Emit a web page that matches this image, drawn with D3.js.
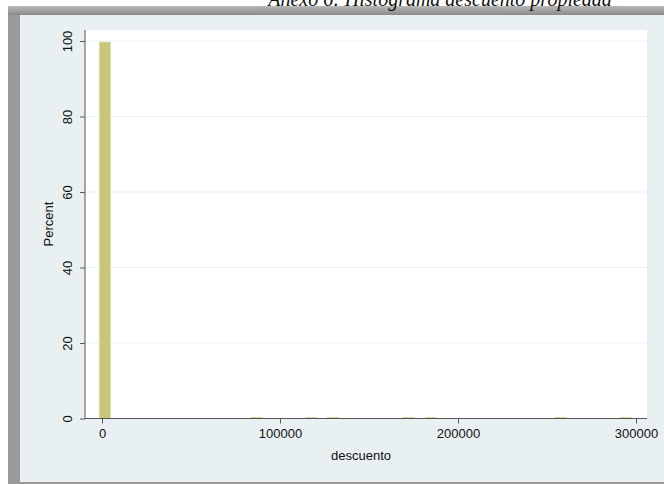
<!DOCTYPE html>
<html>
<head>
<meta charset="utf-8">
<script src="https://cdn.jsdelivr.net/npm/d3@7"></script>
<style>
  html, body { margin: 0; padding: 0; background: #ffffff; }
  svg { display: block; }
</style>
</head>
<body>
<svg id="chart" width="664" height="484"></svg>
<script>
// ---- data ----
const title = "Anexo 6: Histograma descuento propiedad";
const xLabel = "descuento";
const yLabel = "Percent";
const binWidth = 6100;
const binStarts = [-1400, 84000, 114500, 126700, 169400, 181600, 254800, 291400];
const percents  = [99.7, 0.04, 0.04, 0.04, 0.04, 0.04, 0.04, 0.04];
const xTicks = [0, 100000, 200000, 300000];
const yTicks = [0, 20, 40, 60, 80, 100];

const svg = d3.select("#chart");

// frame / backgrounds
const grad = svg.append("defs").append("linearGradient")
  .attr("id", "topShade").attr("x1", 0).attr("y1", 0).attr("x2", 0).attr("y2", 1);
grad.append("stop").attr("offset", "0%").attr("stop-color", "#b8b8b8");
grad.append("stop").attr("offset", "100%").attr("stop-color", "#8a8a8a");

svg.append("rect").attr("x", 8).attr("y", 6).attr("width", 656).attr("height", 478)
  .attr("fill", "#9a9a9a");
svg.append("rect").attr("x", 8).attr("y", 6).attr("width", 656).attr("height", 9)
  .attr("fill", "url(#topShade)");
svg.append("rect").attr("x", 20).attr("y", 15).attr("width", 644).attr("height", 467)
  .attr("fill", "#e8f0f1");

const m = { left: 85, right: 647, top: 30, bottom: 418.5 };
svg.append("rect").attr("x", m.left).attr("y", m.top)
  .attr("width", m.right - m.left).attr("height", m.bottom - m.top)
  .attr("fill", "#ffffff");

const x = d3.scaleLinear().domain([0, 300000]).range([102, 636]);
const y = d3.scaleLinear().domain([0, 100]).range([418.5, 41]);

// gridlines
svg.append("g").selectAll("line").data(yTicks.filter(d => d > 0)).join("line")
  .attr("x1", m.left).attr("x2", m.right)
  .attr("y1", d => y(d)).attr("y2", d => y(d))
  .attr("stroke", "#eaf2f3").attr("stroke-width", 1.2);

// bars
svg.append("g").selectAll("rect").data(binStarts).join("rect")
  .attr("x", (d) => x(d))
  .attr("width", (d) => x(d + binWidth) - x(d))
  .attr("y", (d, i) => Math.min(y(percents[i]), y(0) - 1.2))
  .attr("height", (d, i) => Math.max(y(0) - y(percents[i]), 1.2))
  .attr("fill", "#c9c67b")
  .attr("stroke", "#d6d49a").attr("stroke-width", 0.6);

// axes
const font = "'Liberation Sans', Arial, Helvetica, sans-serif";
const yAxis = svg.append("g").attr("transform", `translate(${m.left},0)`)
  .call(d3.axisLeft(y).tickValues(yTicks).tickSize(5).tickPadding(6).tickFormat(d3.format("d")));
yAxis.select(".domain").attr("stroke", "#555").attr("d", `M0,${m.top}V${m.bottom}`);
yAxis.selectAll(".tick line").attr("stroke", "#555");
yAxis.selectAll(".tick text")
  .attr("font-family", font).attr("font-size", 13).attr("fill", "#111")
  .attr("text-anchor", "middle")
  .attr("transform", "rotate(-90)")
  .attr("x", 0).attr("dy", 0).attr("y", -13);

const xAxis = svg.append("g").attr("transform", `translate(0,${m.bottom})`)
  .call(d3.axisBottom(x).tickValues(xTicks).tickSize(5).tickPadding(5).tickFormat(d3.format("d")));
xAxis.select(".domain").attr("stroke", "#555").attr("d", `M${m.left},0H${m.right}`);
xAxis.selectAll(".tick line").attr("stroke", "#555");
xAxis.selectAll(".tick text")
  .attr("font-family", font).attr("font-size", 13).attr("fill", "#111");

// axis titles
svg.append("text").attr("x", 361).attr("y", 460)
  .attr("text-anchor", "middle").attr("font-family", font).attr("font-size", 13)
  .attr("fill", "#111").text(xLabel);
svg.append("text").attr("transform", "translate(53,224) rotate(-90)")
  .attr("text-anchor", "middle").attr("font-family", font).attr("font-size", 13)
  .attr("fill", "#111").text(yLabel);

// title (cropped at top, as in the reference)
svg.append("text").attr("x", 440).attr("y", 6)
  .attr("text-anchor", "middle")
  .attr("font-family", "'Liberation Serif', 'Times New Roman', serif")
  .attr("font-style", "italic").attr("font-size", 20).attr("fill", "#111")
  .text(title);
</script>
</body>
</html>
